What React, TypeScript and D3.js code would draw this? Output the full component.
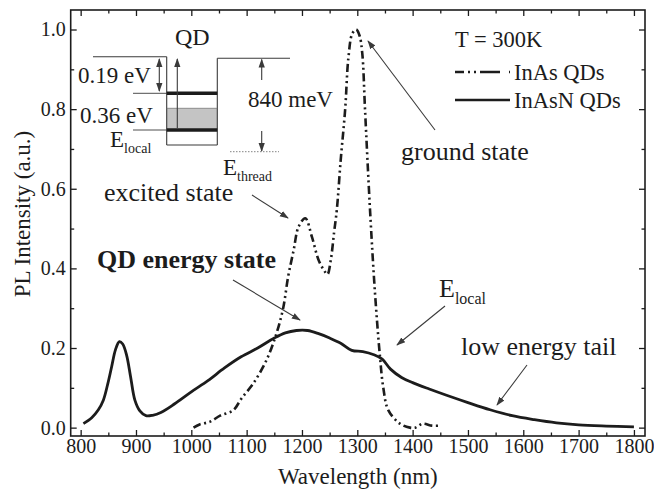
import React, { useEffect, useRef } from "react";
import * as d3 from "d3";

// InAsN QDs (solid)
const inAsNWavelength = [805, 820, 832, 841, 849, 856, 863, 870, 876, 883, 890, 898, 907, 918, 930, 945, 970, 1000, 1030, 1060, 1090, 1120, 1150, 1170, 1190, 1210, 1230, 1250, 1270, 1290, 1310, 1330, 1345, 1360, 1380, 1400, 1430, 1460, 1500, 1540, 1580, 1620, 1660, 1700, 1750, 1800];
const inAsNIntensity = [0.01, 0.025, 0.045, 0.069, 0.11, 0.153, 0.196, 0.216, 0.21, 0.182, 0.13, 0.069, 0.042, 0.03, 0.031, 0.038, 0.06, 0.09, 0.118, 0.15, 0.178, 0.2, 0.225, 0.238, 0.244, 0.244, 0.236, 0.225, 0.212, 0.194, 0.191, 0.183, 0.172, 0.147, 0.126, 0.113, 0.097, 0.082, 0.063, 0.045, 0.03, 0.02, 0.012, 0.007, 0.004, 0.002];

// InAs QDs (dash-dot-dot)
const inAsWavelength = [1004, 1015, 1034, 1052, 1076, 1091, 1112, 1136, 1154, 1166, 1175, 1185, 1194, 1206, 1218, 1230, 1240, 1246, 1252, 1258, 1263, 1270, 1278, 1284, 1291, 1298, 1304, 1309, 1314, 1323, 1332, 1341, 1347, 1356, 1377, 1395, 1405, 1418, 1435, 1450];
const inAsIntensity = [0.0, 0.008, 0.015, 0.03, 0.044, 0.074, 0.111, 0.17, 0.237, 0.3, 0.379, 0.446, 0.505, 0.526, 0.479, 0.421, 0.395, 0.385, 0.42, 0.49, 0.547, 0.672, 0.798, 0.93, 0.99, 1.0, 0.985, 0.94, 0.798, 0.547, 0.338, 0.178, 0.1, 0.044, 0.01, 0.0, 0.0, 0.01, 0.005, 0.005];

const xTickValues = [800, 900, 1000, 1100, 1200, 1300, 1400, 1500, 1600, 1700, 1800];
const xMinorValues = [850, 950, 1050, 1150, 1250, 1350, 1450, 1550, 1650, 1750];
const yTickValues = [0, 0.2, 0.4, 0.6, 0.8, 1.0];
const yMinorValues = [0.1, 0.3, 0.5, 0.7, 0.9];
const legendLabels = ["InAs QDs", "InAsN QDs"];

const DASH = "8,3.5,2,3.5,2,3.5";

export default function App() {
  const ref = useRef<SVGSVGElement>(null);

  useEffect(() => {
    const svg = d3.select(ref.current);
    svg.selectAll("*").remove();

    const left = 70.7, right = 645, top = 10, bottom = 436;
    const x = d3.scaleLinear().domain([782, 1820]).range([left, right]);
    const y = d3.scaleLinear().domain([-0.021, 1.049]).range([bottom, top]);
    const font = "'Liberation Serif', 'Times New Roman', serif";
    const ink = "#1c1c1c";
    const thin = "#3a3a3a";

    svg.append("rect").attr("width", 654).attr("height", 491).attr("fill", "#fff");

    const defs = svg.append("defs");
    defs.append("marker")
      .attr("id", "arrow")
      .attr("viewBox", "0 0 10 10")
      .attr("refX", 9).attr("refY", 5)
      .attr("markerWidth", 9).attr("markerHeight", 9)
      .attr("markerUnits", "userSpaceOnUse")
      .attr("orient", "auto-start-reverse")
      .append("path").attr("d", "M0,1.5 L10,5 L0,8.5 Z").attr("fill", thin);

    // axes (inward ticks)
    const styleAxis = (g: any) => {
      g.select(".domain").remove();
      g.selectAll("line").attr("stroke", ink).attr("stroke-width", 1.3);
      g.selectAll("text").attr("font-family", font).attr("font-size", 20).attr("fill", ink);
    };
    svg.append("g").attr("transform", `translate(0,${bottom})`)
      .call(d3.axisBottom(x).tickValues(xTickValues).tickSize(-6).tickSizeOuter(0).tickPadding(3).tickFormat(d3.format("d")) as any)
      .call(styleAxis);
    svg.append("g").attr("transform", `translate(0,${bottom})`)
      .call(d3.axisBottom(x).tickValues(xMinorValues).tickSize(-3.5).tickSizeOuter(0).tickFormat(() => "") as any)
      .call(styleAxis);
    svg.append("g").attr("transform", `translate(0,${top})`)
      .call(d3.axisTop(x).tickValues(xTickValues).tickSize(-6).tickSizeOuter(0).tickFormat(() => "") as any)
      .call(styleAxis);
    svg.append("g").attr("transform", `translate(0,${top})`)
      .call(d3.axisTop(x).tickValues(xMinorValues).tickSize(-3.5).tickSizeOuter(0).tickFormat(() => "") as any)
      .call(styleAxis);
    svg.append("g").attr("transform", `translate(${left},0)`)
      .call(d3.axisLeft(y).tickValues(yTickValues).tickSize(-6).tickSizeOuter(0).tickPadding(5).tickFormat(d3.format(".1f")) as any)
      .call(styleAxis);
    svg.append("g").attr("transform", `translate(${left},0)`)
      .call(d3.axisLeft(y).tickValues(yMinorValues).tickSize(-3.5).tickSizeOuter(0).tickFormat(() => "") as any)
      .call(styleAxis);
    svg.append("g").attr("transform", `translate(${right},0)`)
      .call(d3.axisRight(y).tickValues(yTickValues).tickSize(-6).tickSizeOuter(0).tickFormat(() => "") as any)
      .call(styleAxis);
    svg.append("g").attr("transform", `translate(${right},0)`)
      .call(d3.axisRight(y).tickValues(yMinorValues).tickSize(-3.5).tickSizeOuter(0).tickFormat(() => "") as any)
      .call(styleAxis);

    svg.append("rect")
      .attr("x", left).attr("y", top).attr("width", right - left).attr("height", bottom - top)
      .attr("fill", "none").attr("stroke", ink).attr("stroke-width", 1.6);

    // axis titles
    svg.append("text").attr("x", (left + right) / 2 + 0).attr("y", 484)
      .attr("text-anchor", "middle").attr("font-family", font).attr("font-size", 23).attr("fill", ink)
      .text("Wavelength (nm)");
    svg.append("text").attr("transform", "translate(30,214) rotate(-90)")
      .attr("text-anchor", "middle").attr("font-family", font).attr("font-size", 23).attr("fill", ink)
      .text("PL Intensity (a.u.)");

    // curves
    const line = d3.line<[number, number]>()
      .x((d) => x(d[0])).y((d) => y(d[1]))
      .curve(d3.curveCatmullRom.alpha(0.5));
    const solid: [number, number][] = inAsNWavelength.map((w, i) => [w, inAsNIntensity[i]]);
    const dashed: [number, number][] = inAsWavelength.map((w, i) => [w, inAsIntensity[i]]);

    svg.append("path").attr("d", line(dashed) as string)
      .attr("fill", "none").attr("stroke", ink).attr("stroke-width", 2.6)
      .attr("stroke-dasharray", DASH);
    svg.append("path").attr("d", line(solid) as string)
      .attr("fill", "none").attr("stroke", ink).attr("stroke-width", 2.8)
      .attr("stroke-linejoin", "round");

    // legend
    const lg = svg.append("g").attr("font-family", font).attr("fill", ink);
    lg.append("text").attr("x", 455).attr("y", 47).attr("font-size", 22.5).text("T = 300K");
    legendLabels.forEach((label, i) => {
      const ly = 72 + i * 28;
      lg.append("line").attr("x1", 455).attr("x2", 510).attr("y1", ly).attr("y2", ly)
        .attr("stroke", ink).attr("stroke-width", 2.6)
        .attr("stroke-dasharray", i === 0 ? "9,4,2,4,2,4,20" : null);
      lg.append("text").attr("x", 514).attr("y", ly + 8).attr("font-size", 22.5).text(label);
    });

    // annotations
    const ann = svg.append("g").attr("font-family", font).attr("fill", ink).attr("font-size", 26);
    const arrow = (x1: number, y1: number, x2: number, y2: number) =>
      svg.append("line").attr("x1", x1).attr("y1", y1).attr("x2", x2).attr("y2", y2)
        .attr("stroke", thin).attr("stroke-width", 1.1).attr("marker-end", "url(#arrow)");

    ann.append("text").attr("x", 401).attr("y", 160).text("ground state");
    arrow(435, 130, 368, 41);
    ann.append("text").attr("x", 104).attr("y", 201).text("excited state");
    arrow(252, 195, 288, 218);
    ann.append("text").attr("x", 97).attr("y", 268).attr("font-weight", "bold").text("QD energy state");
    arrow(233, 280, 300, 320);
    const el = ann.append("text").attr("x", 439).attr("y", 297);
    el.append("tspan").text("E");
    el.append("tspan").attr("font-size", 16).attr("dy", 7).text("local");
    arrow(445, 306, 397, 345);
    ann.append("text").attr("x", 461).attr("y", 355).text("low energy tail");
    arrow(527, 365, 497, 405);

    // inset band diagram
    const ins = svg.append("g");
    const seg = (x1: number, y1: number, x2: number, y2: number, w = 1.1, c = thin) =>
      ins.append("line").attr("x1", x1).attr("y1", y1).attr("x2", x2).attr("y2", y2)
        .attr("stroke", c).attr("stroke-width", w);
    ins.append("rect").attr("x", 166.7).attr("y", 108.3).attr("width", 50.6).attr("height", 21.7)
      .attr("fill", "#c4c4c4");
    seg(93, 56.7, 166.7, 56.7);
    seg(166.7, 56.7, 166.7, 145);
    seg(166.7, 145, 217.3, 145);
    seg(217.3, 145, 217.3, 58.3);
    seg(217.3, 58.3, 290, 58.3);
    seg(166.7, 108.3, 217.3, 108.3, 0.8, "#777");
    seg(133, 93.3, 166.7, 93.3, 0.9);
    seg(133, 130, 166.7, 130, 0.9);
    seg(166.7, 93.3, 217.3, 93.3, 3.6, ink);
    seg(166.7, 130, 217.3, 130, 3.6, ink);
    seg(159.3, 59, 159.3, 91).attr("marker-end", "url(#arrow)").attr("marker-start", "url(#arrow)");
    seg(177.3, 128, 177.3, 59).attr("marker-end", "url(#arrow)");
    seg(261.7, 80, 261.7, 59.5).attr("marker-end", "url(#arrow)");
    seg(261.7, 131, 261.7, 151).attr("marker-end", "url(#arrow)");
    seg(230, 151.7, 279, 151.7, 0.9, "#777").attr("stroke-dasharray", "1.5,1.5");

    const it = ins.append("g").attr("font-family", font).attr("fill", ink).attr("font-size", 23);
    it.append("text").attr("x", 175).attr("y", 45).attr("font-size", 24).text("QD");
    it.append("text").attr("x", 78).attr("y", 83).text("0.19 eV");
    it.append("text").attr("x", 80).attr("y", 123).text("0.36 eV");
    it.append("text").attr("x", 248).attr("y", 107).text("840 meV");
    const e1 = it.append("text").attr("x", 110).attr("y", 147);
    e1.append("tspan").text("E");
    e1.append("tspan").attr("font-size", 14).attr("dy", 6).text("local");
    const e2 = it.append("text").attr("x", 223).attr("y", 175);
    e2.append("tspan").text("E");
    e2.append("tspan").attr("font-size", 14).attr("dy", 6).text("thread");
  }, []);

  return (
    <svg ref={ref} width={654} height={491}
      style={{ position: "absolute", left: 0, top: 0, display: "block" }} />
  );
}
